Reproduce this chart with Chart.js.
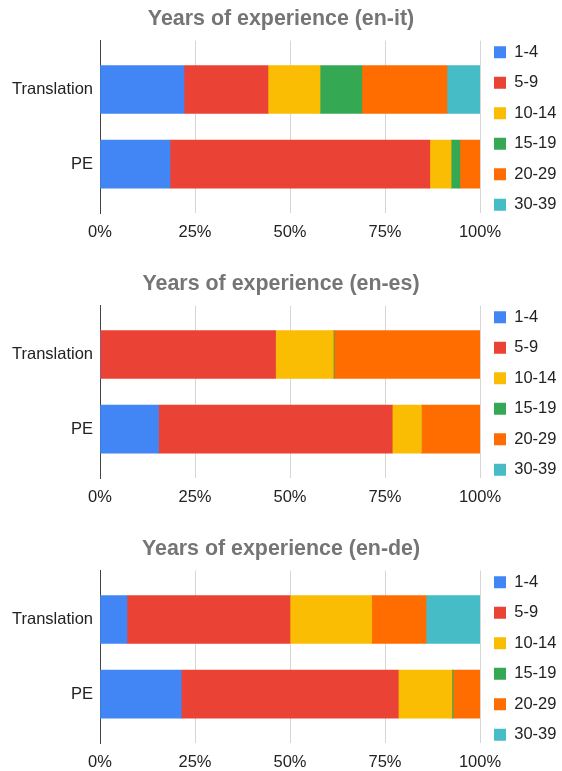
<!DOCTYPE html>
<html>
<head>
<meta charset="utf-8">
<script src="https://cdn.jsdelivr.net/npm/chart.js@4.4.1/dist/chart.umd.min.js"></script>
<style>
  body { margin: 0; background: #fff; overflow: hidden; }
  .box { position: absolute; left: 0; width: 562px; height: 241px; }
</style>
</head>
<body>
<div class="box" style="top:0px"><canvas id="c-it"></canvas></div>
<div class="box" style="top:265px"><canvas id="c-es"></canvas></div>
<div class="box" style="top:530px"><canvas id="c-de"></canvas></div>
<script>
const rows = ['Translation', 'PE']
const ranges = ['1-4', '5-9', '10-14', '15-19', '20-29', '30-39']
const colors = ['#4285F4', '#EA4335', '#FBBC04', '#34A853', '#FF6D01', '#46BDC6']
const xTicks = [0, 25, 50, 75, 100]

// share (%) per range, one array per row
const itTranslation = [22.1, 22.1, 13.7, 11.0, 22.4, 8.7]
const itPE = [18.4, 68.4, 5.6, 2.3, 5.3, 0]
const esTranslation = [0, 46.2, 15.2, 0.2, 38.4, 0]
const esPE = [15.4, 61.5, 7.7, 0, 15.4, 0]
const deTranslation = [7.1, 42.9, 21.5, 0, 14.3, 14.2]
const dePE = [21.4, 57.1, 14.1, 0.3, 7.1, 0]

const font = "'Liberation Sans', Arial, sans-serif"

// keep legend a fixed width so the plot ends at the same x as the original
const legendWidth = {
  id: 'legendWidth',
  beforeInit(chart) {
    const fit = chart.legend.fit
    chart.legend.fit = function () {
      fit.call(this)
      this.width = 82
    }
  },
}

function makeChart(id, title, translation, pe) {
  const datasets = ranges.map((r, i) => ({
    label: r,
    backgroundColor: colors[i],
    borderWidth: 0,
    barThickness: 48,
    data: [
      { x: translation[i], y: 0 },
      { x: pe[i], y: 1 },
    ],
  }))
  new Chart(document.getElementById(id), {
    type: 'bar',
    data: { datasets },
    plugins: [legendWidth],
    options: {
      indexAxis: 'y',
      responsive: true,
      maintainAspectRatio: false,
      animation: false,
      layout: { padding: 0 },
      scales: {
        x: {
          stacked: true,
          min: 0,
          max: 100,
          afterBuildTicks: (s) => { s.ticks = xTicks.map((v) => ({ value: v })) },
          afterFit: (s) => { s.height = 28 },
          grid: { color: '#d6d6d6', drawTicks: false },
          border: { display: false },
          ticks: {
            padding: 10,
            color: '#222',
            font: { family: font, size: 16.5 },
            callback: (v) => v + '%',
          },
        },
        y: {
          type: 'linear',
          stacked: true,
          reverse: true,
          offset: false,
          min: -0.653,
          max: 1.653,
          afterBuildTicks: (s) => { s.ticks = rows.map((_, i) => ({ value: i })) },
          afterFit: (s) => { s.width = 100 },
          grid: { display: false, drawTicks: false, offset: false },
          border: { display: true, color: '#444' },
          ticks: {
            padding: 7,
            color: '#222',
            font: { family: font, size: 16.5 },
            callback: (v) => rows[v],
          },
        },
      },
      plugins: {
        title: {
          display: true,
          text: title,
          color: '#757575',
          font: { family: font, size: 21.4, weight: 'bold' },
          padding: { top: 6, bottom: 9 },
        },
        legend: {
          position: 'right',
          align: 'start',
          title: { display: true, text: ' ', font: { size: 10, lineHeight: 1 }, padding: { top: 20, bottom: 0 } },
          labels: {
            boxWidth: 12,
            boxHeight: 12,
            padding: 14,
            color: '#222',
            font: { family: font, size: 16.5 },
          },
        },
        tooltip: { enabled: false },
      },
    },
  })
}

makeChart('c-it', 'Years of experience (en-it)', itTranslation, itPE)
makeChart('c-es', 'Years of experience (en-es)', esTranslation, esPE)
makeChart('c-de', 'Years of experience (en-de)', deTranslation, dePE)
</script>
</body>
</html>
